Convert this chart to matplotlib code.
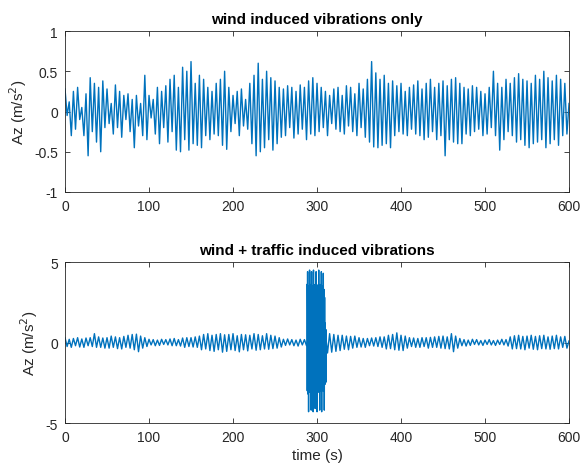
import matplotlib
matplotlib.use('Agg')
import matplotlib.pyplot as plt
import numpy as np
from matplotlib.ticker import FormatStrFormatter

plt.rcParams['font.family'] = ['Liberation Sans', 'DejaVu Sans']
plt.rcParams['axes.unicode_minus'] = False

# peak values, one every 2.5 s (0..600 s)
wind_only = [
    0.28, -0.05, 0.12, -0.30, 0.25, -0.22, 0.30, -0.10, 0.05, -0.30, 0.22, -0.55,
    0.42, -0.25, 0.35, -0.38, 0.30, -0.50, 0.38, -0.20, 0.28, -0.15, 0.10, -0.28,
    0.33, -0.20, 0.25, -0.32, 0.20, -0.10, 0.22, -0.25, 0.15, -0.45, 0.20, -0.18,
    0.10, -0.30, 0.45, -0.35, 0.20, -0.08, 0.15, -0.28, 0.30, -0.40, 0.25, -0.20,
    0.32, -0.38, 0.40, -0.25, 0.45, -0.48, 0.30, -0.50, 0.55, -0.35, 0.50, -0.48,
    0.62, -0.40, 0.35, -0.42, 0.45, -0.45, 0.40, -0.30, 0.30, -0.35, 0.25, -0.28,
    0.35, -0.30, 0.40, -0.42, 0.50, -0.47, 0.30, -0.25, 0.20, -0.15, 0.25, -0.30,
    0.28, -0.18, 0.15, -0.22, 0.35, -0.40, 0.45, -0.55, 0.60, -0.50, 0.40, -0.45,
    0.50, -0.35, 0.42, -0.48, 0.38, -0.40, 0.30, -0.32, 0.28, -0.30, 0.32, -0.20,
    0.30, -0.33, 0.25, -0.28, 0.33, -0.22, 0.30, -0.35, 0.38, -0.28, 0.42, -0.30,
    0.35, -0.25, 0.30, -0.20, 0.25, -0.30, 0.20, -0.15, 0.28, -0.22, 0.30, -0.25,
    0.20, -0.28, 0.32, -0.18, 0.30, -0.25, 0.22, -0.30, 0.35, -0.20, 0.28, -0.32,
    0.40, -0.38, 0.62, -0.44, 0.48, -0.45, 0.40, -0.42, 0.45, -0.40, 0.35, -0.45,
    0.38, -0.30, 0.32, -0.25, 0.35, -0.28, 0.25, -0.30, 0.30, -0.22, 0.33, -0.28,
    0.38, -0.30, 0.28, -0.35, 0.35, -0.32, 0.40, -0.25, 0.30, -0.35, 0.35, -0.30,
    0.38, -0.55, 0.32, -0.35, 0.40, -0.38, 0.42, -0.40, 0.35, -0.40, 0.30, -0.28,
    0.28, -0.30, 0.32, -0.25, 0.30, -0.22, 0.25, -0.30, 0.22, -0.28, 0.30, -0.20,
    0.50, -0.30, 0.35, -0.48, 0.30, -0.35, 0.40, -0.25, 0.35, -0.30, 0.42, -0.38,
    0.47, -0.35, 0.40, -0.42, 0.38, -0.45, 0.35, -0.40, 0.45, -0.38, 0.40, -0.35,
    0.50, -0.45, 0.42, -0.40, 0.38, -0.35, 0.45, -0.42, 0.40, -0.30, 0.35, -0.28,
    0.10,
]

wind_traffic = [
    0.30, -0.25, 0.20, -0.30, 0.25, -0.20, 0.30, -0.28, 0.22, -0.30, 0.28, -0.20,
    0.30, -0.25, 0.55, -0.30, 0.35, -0.30, 0.28, -0.35, 0.30, -0.35, 0.40, -0.30,
    0.35, -0.38, 0.30, -0.40, 0.38, -0.30, 0.45, -0.35, 0.50, -0.45, 0.52, -0.57,
    0.40, -0.35, 0.30, -0.25, 0.20, -0.15, 0.18, -0.20, 0.15, -0.18, 0.20, -0.12,
    0.18, -0.15, 0.22, -0.20, 0.25, -0.20, 0.18, -0.22, 0.28, -0.30, 0.30, -0.25,
    0.30, -0.28, 0.35, -0.30, 0.40, -0.45, 0.50, -0.40, 0.55, -0.50, 0.45, -0.55,
    0.50, -0.45, 0.55, -0.60, 0.48, -0.55, 0.50, -0.45, 0.55, -0.50, 0.42, -0.58,
    0.50, -0.45, 0.48, -0.52, 0.45, -0.40, 0.55, -0.48, 0.50, -0.45, 0.42, -0.40,
    0.55, -0.42, 0.45, -0.38, 0.40, -0.35, 0.30, -0.28, 0.20, -0.18, 0.22, -0.15,
    0.18, -0.20, 0.15, -0.22, 0.20, -0.15, 0.18, -0.20, 0.30, -0.30, 0.30, -0.30,
    0.30, -0.30, 0.30, -0.30, 0.60, -0.65, 0.55, -0.60, 0.50, -0.55, 0.45, -0.50,
    0.45, -0.42, 0.40, -0.45, 0.38, -0.35, 0.40, -0.30, 0.30, -0.28, 0.25, -0.30,
    0.25, -0.20, 0.28, -0.22, 0.30, -0.25, 0.35, -0.30, 0.35, -0.40, 0.45, -0.38,
    0.50, -0.45, 0.60, -0.48, 0.45, -0.50, 0.40, -0.35, 0.30, -0.25, 0.28, -0.30,
    0.25, -0.30, 0.30, -0.25, 0.30, -0.35, 0.32, -0.30, 0.35, -0.30, 0.38, -0.35,
    0.40, -0.38, 0.35, -0.40, 0.55, -0.57, 0.40, -0.35, 0.25, -0.20, 0.18, -0.22,
    0.15, -0.18, 0.20, -0.12, 0.18, -0.15, 0.12, -0.18, 0.15, -0.12, 0.18, -0.15,
    0.12, -0.18, 0.15, -0.12, 0.20, -0.15, 0.18, -0.22, 0.35, -0.40, 0.42, -0.38,
    0.45, -0.40, 0.38, -0.45, 0.40, -0.35, 0.45, -0.42, 0.38, -0.45, 0.42, -0.38,
    0.45, -0.40, 0.35, -0.42, 0.40, -0.38, 0.45, -0.40, 0.35, -0.30, 0.38, -0.35,
    0.10,
]

# traffic burst between ~288 s and ~311 s
burst = [
    3.6, -3.0, 4.4, -3.2, 3.5, -4.3, 3.4, -2.9, 4.5, -3.1, 3.6, -2.8, 3.5, -4.2,
    4.4, -3.0, 3.4, -2.9, 3.5, -4.3, 4.5, -3.1, 3.6, -2.8, 3.4, -4.1, 3.5, -3.0,
    4.4, -2.9, 3.6, -4.3, 3.4, -3.0, 3.5, -2.8, 4.5, -3.1, 3.4, -4.2, 3.6, -2.9,
    3.5, -3.0, 4.4, -4.3, 3.4, -2.8, 3.5, -3.0, 4.3, -2.9, 3.3, -4.2, 2.8, -2.6,
    1.2, -2.5, 0.8, -2.4,
]
burst_start, burst_end = 288, 311

t_top = np.linspace(0, 600, len(wind_only))
t_bot = np.linspace(0, 600, len(wind_traffic))
t_burst = np.linspace(burst_start, burst_end, len(burst))

line_color = '#0072BD'
axis_color = '#262626'

fig = plt.figure(figsize=(5.82, 4.77), dpi=100)
ax1 = fig.add_axes([0.1117, 0.5954, 0.866, 0.3375])
ax2 = fig.add_axes([0.1117, 0.1111, 0.866, 0.3375])

ax1.plot(t_top, wind_only, color=line_color, lw=1.0)
ax2.plot(t_bot, wind_traffic, color=line_color, lw=1.0)
ax2.plot(t_burst, burst, color=line_color, lw=1.0)

ax1.set_ylim(-1, 1)
ax1.set_yticks([-1, -0.5, 0, 0.5, 1])
ax2.set_ylim(-5, 5)
ax2.set_yticks([-5, 0, 5])

for ax, title in [(ax1, 'wind induced vibrations only'),
                  (ax2, 'wind + traffic induced vibrations')]:
    ax.set_xlim(0, 600)
    ax.set_xticks(range(0, 601, 100))
    ax.yaxis.set_major_formatter(FormatStrFormatter('%g'))
    ax.set_title(title, fontsize=11, fontweight='bold', pad=6)
    ax.set_ylabel('Az (m/s$^2$)', fontsize=11, color=axis_color, labelpad=4)
    ax.tick_params(direction='in', top=True, right=True, labelsize=10,
                   colors=axis_color, length=3.5, width=0.6, pad=5)
    for s in ax.spines.values():
        s.set_color(axis_color)
        s.set_linewidth(0.6)

ax2.set_xlabel('time (s)', fontsize=11, color=axis_color, labelpad=3)

fig.savefig('out.png', dpi=100)
